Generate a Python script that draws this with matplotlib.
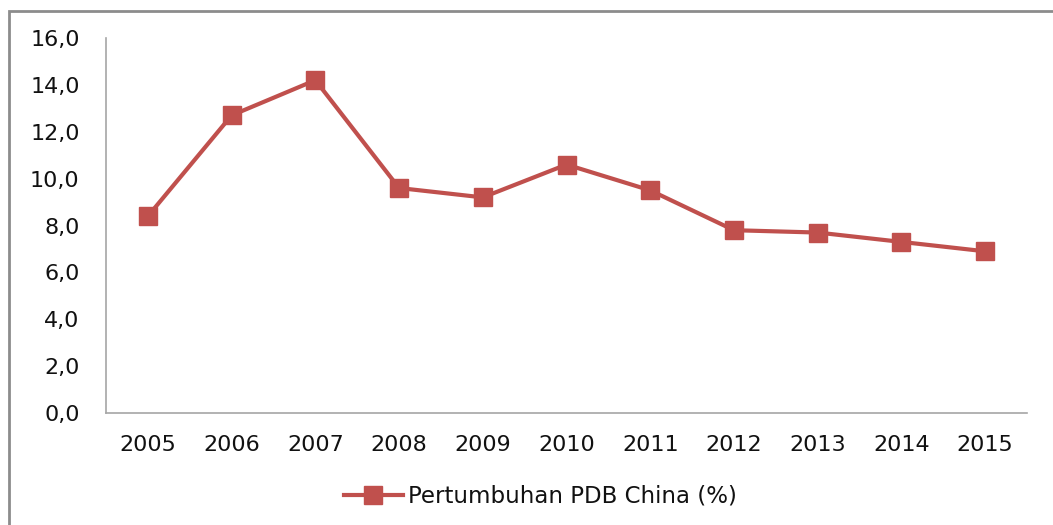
import matplotlib
matplotlib.use("Agg")
from matplotlib import pyplot as plt
from matplotlib.patches import Rectangle

years = ["2005", "2006", "2007", "2008", "2009", "2010",
         "2011", "2012", "2013", "2014", "2015"]
growth = [8.4, 12.7, 14.2, 9.6, 9.2, 10.6, 9.5, 7.8, 7.7, 7.3, 6.9]
y_ticks = [0, 2, 4, 6, 8, 10, 12, 14, 16]
series_name = "Pertumbuhan PDB China (%)"

plt.rcParams["font.family"] = ["DejaVu Sans"]

fig = plt.figure(figsize=(10.53, 5.25), dpi=100)
ax = fig.add_axes([0.1007, 0.2133, 0.8746, 0.7143])

x = list(range(len(years)))
ax.plot(x, growth, color="#C0504D", linewidth=3.0, marker="s",
        markersize=13, label=series_name)

ax.set_xlim(-0.5, len(years) - 0.5)
ax.set_ylim(0, 16)
ax.set_xticks(x)
ax.set_xticklabels(years)
ax.set_yticks(y_ticks)
ax.set_yticklabels([("%.1f" % v).replace(".", ",") for v in y_ticks])
ax.tick_params(axis="both", length=0, labelsize=16, labelcolor="#111111")
ax.tick_params(axis="x", pad=16)
ax.tick_params(axis="y", pad=19)

for side in ["top", "right"]:
    ax.spines[side].set_visible(False)
for side in ["left", "bottom"]:
    ax.spines[side].set_color("#A6A6A6")
    ax.spines[side].set_linewidth(1.2)

leg = fig.legend(loc="center", bbox_to_anchor=(0.513, 0.055), frameon=False,
                 fontsize=16.5, handlelength=2.6, handletextpad=0.2)
for t in leg.get_texts():
    t.set_color("#111111")

# outer chart frame
fig.patches.append(Rectangle((9 / 1053, -0.05), 1.2, 1 - 11 / 525 + 0.05,
                             transform=fig.transFigure, fill=False,
                             edgecolor="#8C8C8C", linewidth=2))

fig.savefig("out.png", dpi=100)
